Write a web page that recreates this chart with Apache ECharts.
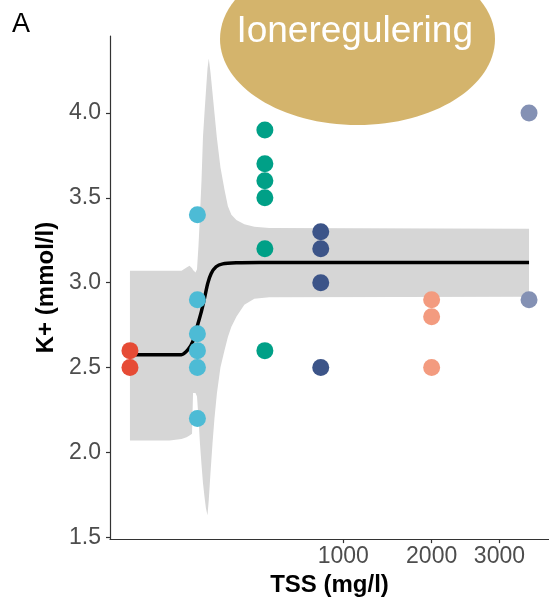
<!DOCTYPE html>
<html><head><meta charset="utf-8">
<script src="https://cdn.jsdelivr.net/npm/echarts@6/dist/echarts.min.js"></script>
<style>html,body{margin:0;padding:0;background:#fff}#c{width:549px;height:602px}</style>
</head><body><div id="c"></div>
<script>
// Data (TSS in mg/l, K+ in mmol/l); x axis drawn on a square-root scale
const groupTSS = [0, 100, 400, 800, 2000, 3500];
const groupK0 = [2.6, 2.5];
const groupK1 = [3.4, 2.9, 2.7, 2.6, 2.5, 2.2];
const groupK2 = [3.9, 3.7, 3.6, 3.5, 3.2, 2.6];
const groupK3 = [3.3, 3.2, 3.0, 2.5];
const groupK4 = [2.9, 2.8, 2.5];
const groupK5 = [4.0, 2.9];
const groupColors = ['#E64B35', '#4DBBD5', '#00A087', '#3C5488', '#F39B7F', '#8491B4'];

const fitTSS = [0, 58, 74, 87, 98, 112, 122, 133, 145, 163, 189, 248, 368, 3500];
const fitK   = [2.576, 2.576, 2.606, 2.655, 2.733, 2.83, 2.908, 2.996, 3.054, 3.094, 3.111, 3.117, 3.119, 3.119];

const ribbonTSS   = [0, 34.6, 58.5, 70.4, 78.0, 84.7, 87.4, 94.5, 98.8, 103.3, 107.8, 112.5, 117.2, 122.1, 127.0, 132.1, 136.5, 142.5, 149.6, 156.9, 166.3, 179.9, 196.1, 210.8, 226.1, 248.9, 287.5, 339.8, 426.3, 3500];
const ribbonUpper = [3.07, 3.07, 3.07, 3.09, 3.10, 3.085, 3.075, 3.06, 3.08, 3.22, 3.40, 3.60, 3.86, 4.00, 4.13, 4.26, 4.32, 4.24, 4.12, 4.00, 3.85, 3.68, 3.55, 3.45, 3.40, 3.37, 3.345, 3.33, 3.322, 3.318];
const ribbonLower = [2.07, 2.07, 2.08, 2.09, 2.10, 2.11, 2.35, 2.35, 2.33, 2.20, 2.05, 1.93, 1.82, 1.74, 1.67, 1.63, 1.72, 1.88, 2.05, 2.20, 2.35, 2.50, 2.60, 2.68, 2.74, 2.80, 2.87, 2.905, 2.915, 2.918];

const xTickValues = [1000, 2000, 3000];
const yTickValues = [1.5, 2.0, 2.5, 3.0, 3.5, 4.0];

const FONT = '"Liberation Sans", Arial, sans-serif';
const groupK = [groupK0, groupK1, groupK2, groupK3, groupK4, groupK5];

const chart = echarts.init(document.getElementById('c'), null, {renderer: 'canvas'});

const scatterSeries = groupTSS.map((t, gi) => ({
  type: 'scatter',
  data: groupK[gi].map(k => [Math.sqrt(t), k]),
  symbolSize: 17,
  itemStyle: {color: groupColors[gi], opacity: 1},
  z: 5
}));

const option = {
  animation: false,
  backgroundColor: '#fff',
  grid: {left: 110, top: 36, width: 441, height: 506, containLabel: false},
  xAxis: {
    type: 'value',
    min: -2.958, max: 62.12,
    splitLine: {show: false},
    axisLine: {show: true, onZero: false, lineStyle: {color: '#333', width: 1.2}},
    axisTick: {show: true, length: 4, lineStyle: {color: '#333', width: 1.2}, customValues: xTickValues.map(Math.sqrt)},
    axisLabel: {
      show: true, margin: 6, color: '#4d4d4d', fontSize: 23, fontFamily: FONT,
      customValues: xTickValues.map(Math.sqrt),
      formatter: v => String(Math.round(v * v / 100) * 100)
    },
    name: 'TSS (mg/l)', nameLocation: 'middle', nameGap: 27,
    nameTextStyle: {color: '#000', fontSize: 24, fontWeight: 'bold', fontFamily: FONT}
  },
  yAxis: {
    type: 'value',
    min: 1.49, max: 4.453,
    splitLine: {show: false},
    axisLine: {show: true, onZero: false, lineStyle: {color: '#333', width: 1.2}},
    axisTick: {show: true, length: 4, lineStyle: {color: '#333', width: 1.2}, customValues: yTickValues},
    axisLabel: {
      show: true, margin: 9, color: '#4d4d4d', fontSize: 23, fontFamily: FONT,
      customValues: yTickValues,
      formatter: v => v.toFixed(1)
    },
    name: 'K+ (mmol/l)', nameLocation: 'middle', nameGap: 52,
    nameTextStyle: {color: '#000', fontSize: 24, fontWeight: 'bold', fontFamily: FONT}
  },
  graphic: [
    {type: 'text', left: 12, top: 11, style: {text: 'A', fontSize: 27, fontFamily: FONT, fill: '#000'}},
    {type: 'ellipse', shape: {cx: 357.5, cy: 39, rx: 137.5, ry: 86}, style: {fill: '#d4b46c'}, z: 10},
    {type: 'text', x: 354.7, y: 32, z: 11, style: {text: 'Ioneregulering', fontSize: 37, fontFamily: FONT, fill: '#fff', align: 'center', verticalAlign: 'middle'}}
  ],
  series: [
    {
      type: 'custom',
      coordinateSystem: 'cartesian2d',
      data: [[0, 0]],
      z: 1,
      silent: true,
      renderItem: (params, api) => {
        const pts = [];
        for (let i = 0; i < ribbonTSS.length; i++) pts.push(api.coord([Math.sqrt(ribbonTSS[i]), ribbonUpper[i]]));
        for (let i = ribbonTSS.length - 1; i >= 0; i--) pts.push(api.coord([Math.sqrt(ribbonTSS[i]), ribbonLower[i]]));
        return {type: 'polygon', shape: {points: pts}, style: {fill: '#d6d6d6'}};
      }
    },
    {
      type: 'line',
      data: fitTSS.map((t, i) => [Math.sqrt(t), fitK[i]]),
      showSymbol: false,
      smooth: 0.25,
      lineStyle: {color: '#000', width: 3.5},
      z: 3
    },
    ...scatterSeries
  ]
};
chart.setOption(option);
</script>
</body></html>
